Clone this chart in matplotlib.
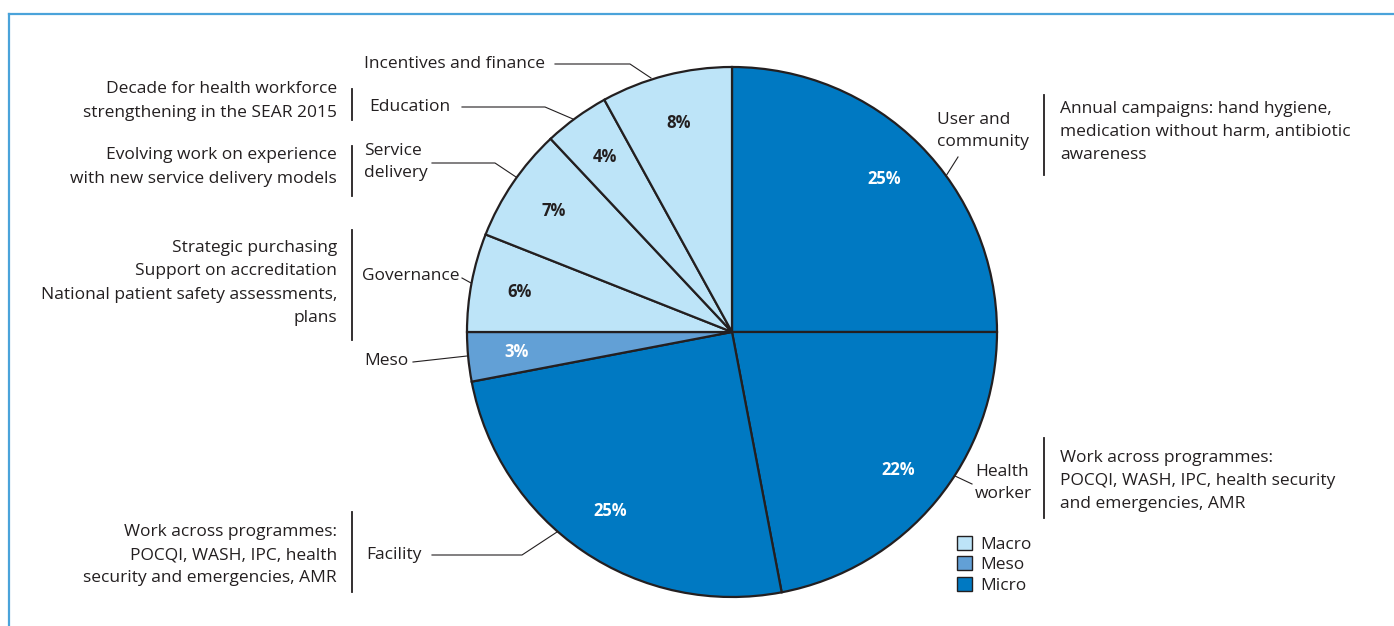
import matplotlib.pyplot as plt
from matplotlib.patches import Patch

W, H = 1394, 626

# slices clockwise from 12 o'clock
labels = ["User and\ncommunity", "Health\nworker", "Facility", "Meso",
          "Governance", "Service\ndelivery", "Education", "Incentives and finance"]
shares = [25, 22, 25, 3, 6, 7, 4, 8]
levels = ["Micro", "Micro", "Micro", "Meso", "Macro", "Macro", "Macro", "Macro"]

level_names = ["Macro", "Meso", "Micro"]
level_colors = {"Macro": "#BDE4F8", "Meso": "#62A0D6", "Micro": "#0079C2"}
pct_colors = {"Macro": "#231F20", "Meso": "white", "Micro": "white"}

left_notes = [
    ("Decade for health workforce\nstrengthening in the SEAR 2015", 101, 89, 120),
    ("Evolving work on experience\nwith new service delivery models", 167, 146, 196),
    ("Strategic purchasing\nSupport on accreditation\nNational patient safety assessments,\nplans", 283, 230, 340),
    ("Work across programmes:\nPOCQI, WASH, IPC, health\nsecurity and emergencies, AMR", 555, 512, 592),
]
right_notes = [
    ("Annual campaigns: hand hygiene,\nmedication without harm, antibiotic\nawareness", 132, 95, 175),
    ("Work across programmes:\nPOCQI, WASH, IPC, health security\nand emergencies, AMR", 481, 438, 518),
]

plt.rcParams['font.family'] = ['Open Sans', 'DejaVu Sans']
TXT = "#231F20"
FS = 12.5

fig = plt.figure(figsize=(W / 100, H / 100), dpi=100)
ax = fig.add_axes([0, 0, 1, 1])


def Y(y):
    return H - y


cx, cy, R = 732, Y(332), 265
wedges, _, pcts = ax.pie(
    shares, colors=[level_colors[l] for l in levels], startangle=90,
    counterclock=False, center=(cx, cy), radius=R, frame=True,
    autopct=lambda p: f"{p:.0f}%", pctdistance=0.815,
    wedgeprops=dict(edgecolor=TXT, linewidth=1.6),
    textprops=dict(fontsize=12, fontweight="bold"))
for t, lv in zip(pcts, levels):
    t.set_color(pct_colors[lv])
ax.set_xlim(0, W)
ax.set_ylim(0, H)
ax.set_aspect("equal")
ax.axis("off")

# slice names with leader lines: (text x, text y, line points)
slice_tags = [
    (937, 131, [(958, 157), (946, 176)]),
    (975, 483, [(972, 484), (955, 476)]),
    (366, 555, [(432, 555), (522, 555), (557, 532)]),
    (364, 361, [(413, 362), (467, 356)]),
    (362, 276, [(462, 278), (471, 283)]),
    (364, 162, [(432, 163), (495, 163), (516, 177)]),
    (369, 107, [(462, 107), (545, 107), (573, 119)]),
    (364, 64, [(555, 64), (630, 64), (651, 78)]),
]
for name, (tx, ty, pts) in zip(labels, slice_tags):
    ax.text(tx, Y(ty), name, ha="left", va="center", fontsize=FS, color=TXT,
            linespacing=1.5)
    ax.plot([p[0] for p in pts], [Y(p[1]) for p in pts], color=TXT, lw=0.8)

for txt, ty, y0, y1 in left_notes:
    ax.text(337, Y(ty), txt, ha="right", va="center", fontsize=FS, color=TXT,
            linespacing=1.6)
    ax.plot([352, 352], [Y(y0), Y(y1)], color=TXT, lw=1.3)
for txt, ty, y0, y1 in right_notes:
    ax.text(1060, Y(ty), txt, ha="left", va="center", fontsize=FS, color=TXT,
            linespacing=1.6)
    ax.plot([1044, 1044], [Y(y0), Y(y1)], color=TXT, lw=1.3)

handles = [Patch(facecolor=level_colors[n], edgecolor=TXT, linewidth=1.0)
           for n in level_names]
ax.legend(handles, level_names, loc="upper left",
          bbox_to_anchor=(950 / W, 1 - 529 / H), frameon=False,
          fontsize=FS, handlelength=0.85, handleheight=0.85,
          handletextpad=0.5, labelspacing=0.2, borderaxespad=0,
          labelcolor=TXT)

# thin blue frame (top and left edges)
frame_c = "#4AA3DA"
fig.add_artist(plt.Line2D([9 / W, 1], [1 - 14 / H, 1 - 14 / H], color=frame_c, lw=1.6))
fig.add_artist(plt.Line2D([9 / W, 9 / W], [0, 1 - 14 / H], color=frame_c, lw=1.6))

fig.savefig("out.png", dpi=100)
